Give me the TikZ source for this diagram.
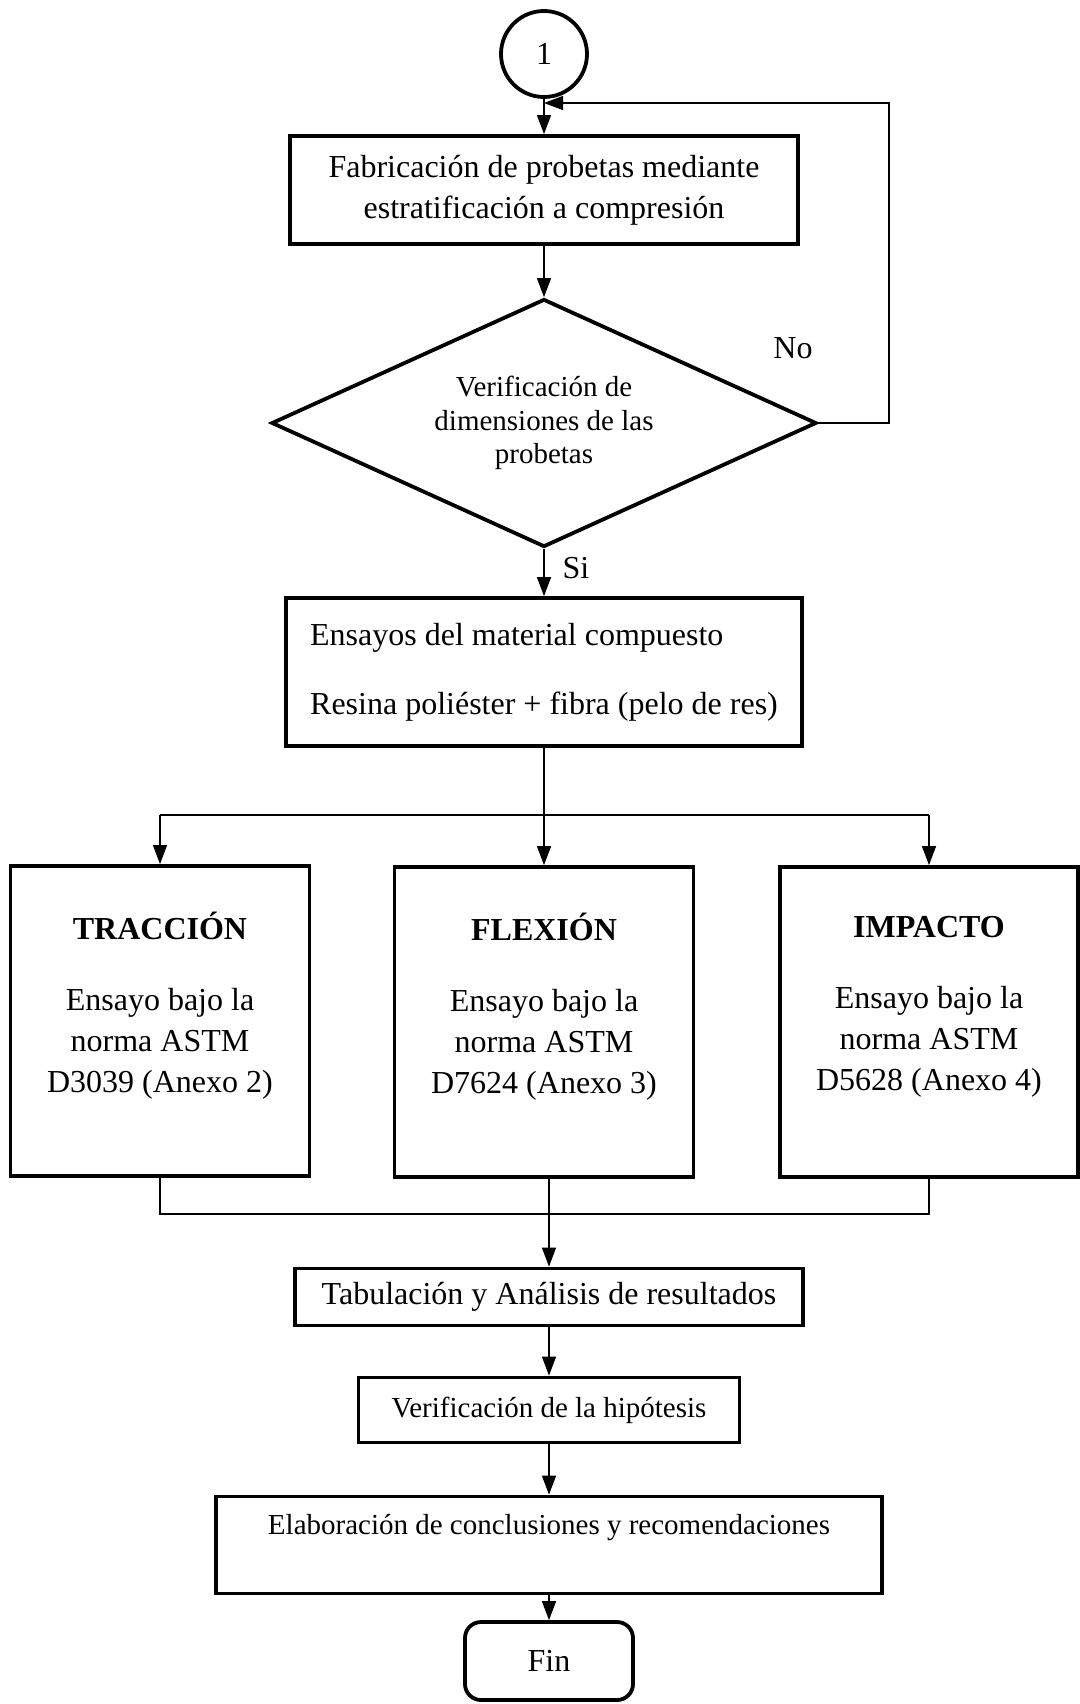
\documentclass[tikz,border=0pt]{standalone}
\usepackage{fontspec}
\setmainfont{Liberation Serif}
\usetikzlibrary{shapes.geometric,arrows.meta}

\tikzset{
  caja/.style={draw,line width=1.9pt,inner sep=0pt,align=center},
  txt/.style={font=\fontsize{16}{20.5}\selectfont},
  txtsm/.style={font=\fontsize{14.5}{16.8}\selectfont},
  linea/.style={line width=0.65pt},
  flecha/.style={linea,-{Triangle[length=9.5pt,width=7pt]}}
}

\begin{document}
\begin{tikzpicture}[x=0.5pt,y=-0.5pt]
  \useasboundingbox (0,0) rectangle (1080,1704);

  % inicio y fabricacion
  \node[circle,draw,line width=1.9pt,minimum size=43pt,inner sep=0pt,txt] (uno) at (544,54) {1};
  \node[caja,txt,minimum width=254pt,minimum height=54pt] (fab) at (544,190)
    {Fabricación de probetas mediante\\estratificación a compresión};
  \node[diamond,draw,line width=1.9pt,minimum width=272.5pt,minimum height=124pt,
    inner sep=0pt,aspect=2.2,align=center,txtsm] (verif) at (544,423)
    {Verificación de\\dimensiones de las\\probetas};
  \node[txt] (no) at (793,348) {No};
  \node[txt] (si) at (576,568) {Si};
  \node[caja,txt,minimum width=258pt,minimum height=74pt,align=left] (ens) at (544,672)
    {Ensayos del material compuesto\\[14pt]Resina poliéster + fibra (pelo de res)};

  % ensayos
  \node[caja,minimum width=149.5pt,minimum height=155pt] (trac) at (160,1021) {};
  \node[caja,minimum width=149.5pt,minimum height=155pt] (flex) at (544,1022) {};
  \node[caja,minimum width=149pt,minimum height=155pt] (imp) at (929,1022) {};
  \node[txt,align=center] (tracT) at (160,1006)
    {\textbf{TRACCIÓN}\\[15pt]Ensayo bajo la\\norma ASTM\\D3039 (Anexo 2)};
  \node[txt,align=center] (flexT) at (544,1007)
    {\textbf{FLEXIÓN}\\[15pt]Ensayo bajo la\\norma ASTM\\D7624 (Anexo 3)};
  \node[txt,align=center] (impT) at (929,1007)
    {\textbf{IMPACTO}\\[15pt]Ensayo bajo la\\norma ASTM\\D5628 (Anexo 4)};

  % resultados y fin
  \node[caja,txt,minimum width=254pt,minimum height=28.5pt] (tab) at (549,1297)
    {Tabulación y Análisis de resultados};
  \node[caja,txtsm,minimum width=190.5pt,minimum height=32.5pt] (hip) at (549,1410)
    {Verificación de la hipótesis};
  \node[caja,txtsm,minimum width=333pt,text height=15.75pt,text depth=26.75pt,
    inner ysep=3pt] (elab) at (549,1545)
    {Elaboración de conclusiones y recomendaciones};
  \node[caja,txt,rounded corners=8pt,minimum width=84pt,minimum height=39pt] (fin) at (549,1661) {Fin};

  \coordinate (entrada) at (544,103);
  \coordinate (esq) at (889,103);
  \coordinate (ramaC) at (544,815);
  \coordinate (ramaL) at (160,815);
  \coordinate (ramaR) at (929,815);
  \coordinate (juntaL) at (160,1214);
  \coordinate (juntaR) at (929,1214);

  \draw[flecha] (uno) -- (fab);
  \draw[flecha] (verif.east) -| (esq) -- (entrada);
  \draw[flecha] (fab) -- (verif);
  \draw[flecha] (verif) -- (ens);
  \draw[linea] (ens) -- (ramaC);
  \draw[linea] (ramaL) -- (ramaR);
  \draw[flecha] (ramaL) -- (trac);
  \draw[flecha] (ramaC) -- (flex);
  \draw[flecha] (ramaR) -- (imp);
  \draw[linea] (trac) -- (juntaL) -- (juntaR) -- (imp);
  \draw[flecha] (flex.south -| tab) -- (tab);
  \draw[flecha] (tab) -- (hip);
  \draw[flecha] (hip) -- (elab);
  \draw[flecha] (elab) -- (fin);
\end{tikzpicture}
\end{document}
